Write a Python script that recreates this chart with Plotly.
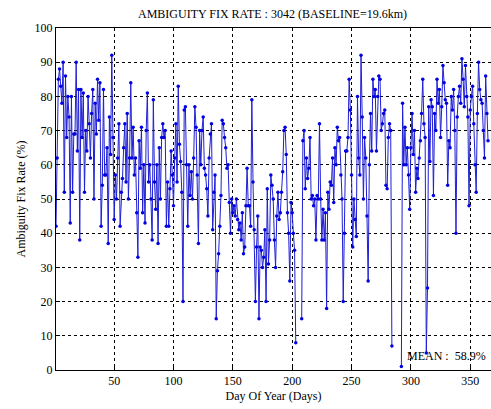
import plotly.graph_objects as go

N = None
days = list(range(1, 366))
fix_rate = [
    42, 62, 85, 88, 83, 78, 90, 52, 86, 68,
    80, 74, 43, 80, 52, 69, 69, 90, 64, 82,
    38, 82, 68, 81, 52, 70, 64, 80, 72, 62,
    75, 82, 50, 78, 69, 85, 73, 84, 42, 54,
    82, 57, 57, 65, 37, 74, 63, 92, 68, 44,
    57, 50, 62, 72, 42, 52, 56, 65, 72, 55,
    75, 50, 62, 84, 62, 71, 57, 62, 46, 33,
    67, 59, 71, 46, 60, 43, 70, 81, 55, 60,
    50, 38, 79, 55, 47, 60, 37, 65, 50, 68,
    72, 68, 70, 42, 55, 42, 53, 64, 57, 48,
    62, 72, 55, 83, 66, 61, 52, 20, 76, 77,
    60, 42, 60, 51, 58, 50, 62, 77, 71, 57,
    37, 70, 60, 70, 74, 59, 57, 53, 45, 62,
    69, 72, 41, 52, 57, 15, 29, 34, 42, 51,
    73, 72, 68, 65, 59, 60, 49, 40, 50, 46,
    48, 45, 50, 44, 41, 43, 38, 46, 34, 36,
    48, 59, 48, 48, 42, 79, 55, 41, 20, 36,
    45, 15, 36, 35, 30, 33, 41, 20, 53, 31,
    38, 57, 54, 50, 38, 30, 45, 52, 44, 46,
    52, 58, 70, 71, 63, 46, 40, 26, 49, 46,
    40, 35, 8, N, N, N, N, 15, 67, 70,
    53, 62, 56, 59, 68, 50, 51, 48, 50, 38,
    51, 50, 72, 50, 38, 47, 38, 46, 18, 52,
    47, 55, 54, 62, 49, 65, 60, 71, 67, 68,
    57, 50, 20, 40, 64, 64, 68, 85, 76, 57,
    36, 50, 44, 39, 80, 62, 57, 92, 74, 50,
    68, 62, 45, 26, 60, 75, 64, 85, 80, 82,
    64, 80, 86, 85, 70, 72, 75, 76, 54, 53,
    68, 72, 70, 7, N, N, N, N, N, N,
    N, 1, 78, 60, 71, 60, 65, 57, 47, 65,
    75, 63, 70, 52, 59, 56, 62, 67, 75, 85,
    72, 68, 5, 24, 77, 61, 79, 77, 51, 75,
    70, 85, 78, 82, 68, 77, 89, 84, 79, 78,
    54, 67, 65, 80, 76, 82, 70, 40, 74, 80,
    83, 78, 91, 85, 77, 89, 80, 74, 48, 76,
    80, 83, 72, 60, 52, 75, 90, 82, 79, 78,
    70, 62, 86, 75, 67,
]
x_ticks = [50, 100, 150, 200, 250, 300, 350]
y_ticks = [0, 10, 20, 30, 40, 50, 60, 70, 80, 90, 100]
title_text = "AMBIGUITY FIX RATE : 3042 (BASELINE=19.6km)"
mean_text = "MEAN :  58.9%"

FONT = "Liberation Serif"

fig = go.Figure()
fig.add_trace(go.Scatter(
    x=days, y=fix_rate, mode="lines+markers",
    line=dict(color="#1f1fd6", width=1),
    marker=dict(color="#0000e0", size=3.5, line=dict(width=0)),
    connectgaps=False, showlegend=False,
))

axis_common = dict(
    showgrid=True, gridcolor="#000000", gridwidth=0.8, griddash="3px,3px",
    showline=True, linecolor="#000000", linewidth=1,
    ticks="inside", ticklen=4, tickcolor="#000000",
    zeroline=False, tickfont=dict(family=FONT, size=12, color="#000000"),
)

fig.update_layout(
    width=491, height=409,
    margin=dict(l=56, r=0, t=28, b=39),
    paper_bgcolor="white", plot_bgcolor="white",
    title=dict(text=title_text, x=0.555, xanchor="center", y=0.967, yanchor="middle",
               font=dict(family=FONT, size=12, color="#000000")),
    xaxis=dict(range=[1, 367.5], tickvals=x_ticks, mirror=True,
               title=dict(text="Day Of Year (Days)", font=dict(family=FONT, size=12, color="#000000"), standoff=4),
               **axis_common),
    yaxis=dict(range=[0, 100], tickvals=y_ticks, mirror=False,
               title=dict(text="Ambiguity Fix Rate (%)", font=dict(family=FONT, size=12, color="#000000"), standoff=6),
               **axis_common),
    annotations=[dict(text=mean_text, xref="paper", yref="paper", x=0.993, y=0.015,
                      xanchor="right", yanchor="bottom", showarrow=False,
                      font=dict(family=FONT, size=12, color="#000000"))],
)

fig.write_html("out.html")
